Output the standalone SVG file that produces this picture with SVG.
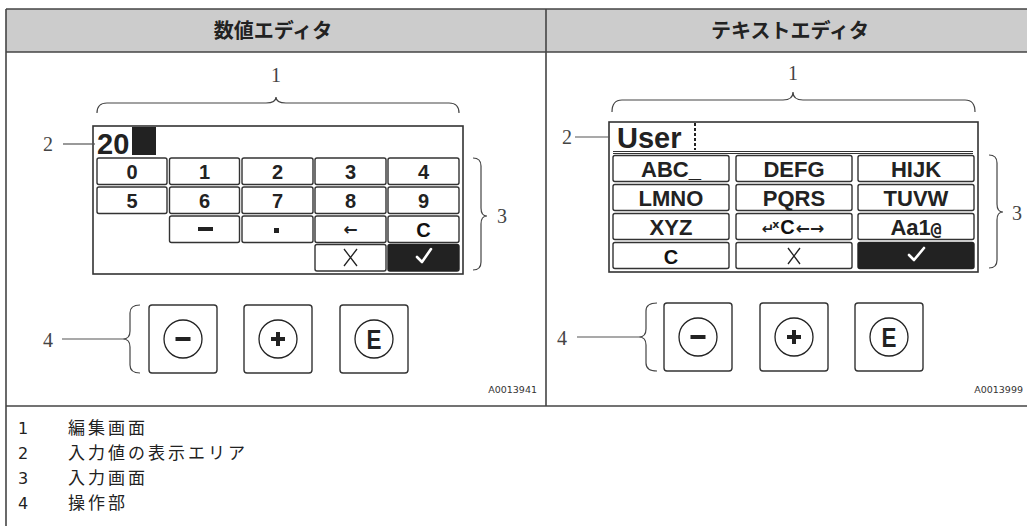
<svg xmlns="http://www.w3.org/2000/svg" width="1027" height="526" viewBox="0 0 1027 526">
<style>
.frame{fill:none;stroke:#444;stroke-width:1.6}
.hdr{font-family:"Noto Sans CJK JP","Noto Sans",sans-serif;font-weight:bold;font-size:20px;fill:#222;text-anchor:middle}
.lbl{font-family:"Liberation Serif","DejaVu Serif",serif;font-size:20px;fill:#444;text-anchor:middle}
.lead{fill:none;stroke:#555;stroke-width:1.2}
.brace{fill:none;stroke:#444;stroke-width:1.2}
.box{fill:#fff;stroke:#333;stroke-width:1.6}
.key{fill:#fff;stroke:#333;stroke-width:1.4}
.keyb{fill:#222;stroke:#222;stroke-width:1.4}
.kt{font-family:"Liberation Sans",Arial,sans-serif;font-weight:bold;font-size:20px;fill:#222;text-anchor:middle}
.tt{font-family:"Liberation Sans",Arial,sans-serif;font-weight:bold;font-size:22px;fill:#222;text-anchor:middle}
.cc{font-family:"Liberation Sans",Arial,sans-serif;font-weight:bold;font-size:20px;fill:#111;text-anchor:middle}
.mono{font-family:"DejaVu Sans Mono","Liberation Mono",monospace;font-weight:bold}
.sym{font-family:"DejaVu Sans",sans-serif;font-weight:bold}
.ic{fill:none;stroke:#222;stroke-width:1.3}
.chk{fill:none;stroke:#fff;stroke-width:2.6;stroke-linecap:round;stroke-linejoin:round}
.btn{fill:#fff;stroke:#333;stroke-width:1.4}
.circ{fill:none;stroke:#222;stroke-width:1.3}
.bar{fill:#222}
.E{font-family:"Liberation Sans",Arial,sans-serif;font-weight:bold;font-size:28px;fill:#222;text-anchor:middle}
.code{font-family:"DejaVu Sans",sans-serif;font-size:9.5px;fill:#333;text-anchor:end}
.legn{font-family:"DejaVu Sans",sans-serif;font-size:16px;fill:#222}
.legt{font-family:"Noto Sans CJK JP",sans-serif;font-size:17px;letter-spacing:3px;fill:#222}
</style>

<g id="frame">
  <rect x="6" y="9" width="1030" height="43" fill="#cccccc"/>
  <line class="frame" x1="6" y1="9" x2="1027" y2="9"/>
  <line class="frame" x1="6" y1="52" x2="1027" y2="52"/>
  <line class="frame" x1="6" y1="9" x2="6" y2="526"/>
  <line class="frame" x1="546" y1="9" x2="546" y2="406"/>
  <line class="frame" x1="6" y1="406" x2="1027" y2="406"/>
  <text class="hdr" x="273" y="38">数値エディタ</text>
  <text class="hdr" x="790" y="38">テキストエディタ</text>
</g>

<!-- Numeric editor -->
<g id="num-editor">
  <rect class="box" x="93" y="126" width="370" height="148"/>
  <text x="97" y="154" font-family="Liberation Sans,Arial,sans-serif" font-weight="bold" font-size="29" fill="#222">20</text>
  <rect x="132" y="127" width="24" height="28" fill="#222"/>
  <g id="num-keys">
    <rect class="key" x="97" y="158" width="70" height="26.5" rx="2"/>
    <rect class="key" x="169.5" y="158" width="70" height="26.5" rx="2"/>
    <rect class="key" x="242" y="158" width="71" height="26.5" rx="2"/>
    <rect class="key" x="315" y="158" width="71" height="26.5" rx="2"/>
    <rect class="key" x="388" y="158" width="71" height="26.5" rx="2"/>
    <rect class="key" x="97" y="187" width="70" height="26.5" rx="2"/>
    <rect class="key" x="169.5" y="187" width="70" height="26.5" rx="2"/>
    <rect class="key" x="242" y="187" width="71" height="26.5" rx="2"/>
    <rect class="key" x="315" y="187" width="71" height="26.5" rx="2"/>
    <rect class="key" x="388" y="187" width="71" height="26.5" rx="2"/>
    <rect class="key" x="169.5" y="216" width="70" height="26.5" rx="2"/>
    <rect class="key" x="242" y="216" width="71" height="26.5" rx="2"/>
    <rect class="key" x="315" y="216" width="71" height="26.5" rx="2"/>
    <rect class="key" x="388" y="216" width="71" height="26.5" rx="2"/>
    <rect class="key" x="315" y="244.5" width="71" height="26.5" rx="2"/>
    <rect class="keyb" x="388" y="244.5" width="71" height="26.5" rx="2"/>
    <text class="kt" x="132" y="178.5">0</text>
    <text class="kt" x="204.5" y="178.5">1</text>
    <text class="kt" x="277.5" y="178.5">2</text>
    <text class="kt" x="350.5" y="178.5">3</text>
    <text class="kt" x="423.5" y="178.5">4</text>
    <text class="kt" x="132" y="207.5">5</text>
    <text class="kt" x="204.5" y="207.5">6</text>
    <text class="kt" x="277.5" y="207.5">7</text>
    <text class="kt" x="350.5" y="207.5">8</text>
    <text class="kt" x="423.5" y="207.5">9</text>
    <rect class="bar" x="198" y="227" width="15" height="4"/>
    <rect class="bar" x="274" y="228" width="5" height="5"/>
    <text class="sym" x="350.5" y="235" font-size="17" fill="#222" text-anchor="middle">←</text>
    <text class="cc" x="423.5" y="236.5">C</text>
    <path class="ic" d="M344,249 L357,266 M357,249 L344,266"/>
    <path class="chk" d="M417,257 L422,262 L431,249"/>
  </g>
</g>

<!-- Text editor -->
<g id="text-editor">
  <rect class="box" x="609" y="122" width="369" height="150"/>
  <text x="617" y="148" font-family="Liberation Sans,Arial,sans-serif" font-weight="bold" font-size="29" fill="#222">User</text>
  <line x1="695" y1="123" x2="695" y2="150" stroke="#222" stroke-width="2" stroke-dasharray="3,2"/>
  <line x1="613" y1="151.5" x2="973" y2="151.5" stroke="#333" stroke-width="1"/>
  <line x1="613" y1="153.5" x2="973" y2="153.5" stroke="#333" stroke-width="1"/>
  <g id="text-keys">
    <rect class="key" x="613" y="155.5" width="116" height="26" rx="2"/>
    <rect class="key" x="736" y="155.5" width="116" height="26" rx="2"/>
    <rect class="key" x="858" y="155.5" width="116" height="26" rx="2"/>
    <rect class="key" x="613" y="184.5" width="116" height="26" rx="2"/>
    <rect class="key" x="736" y="184.5" width="116" height="26" rx="2"/>
    <rect class="key" x="858" y="184.5" width="116" height="26" rx="2"/>
    <rect class="key" x="613" y="213.5" width="116" height="26" rx="2"/>
    <rect class="key" x="736" y="213.5" width="116" height="26" rx="2"/>
    <rect class="key" x="858" y="213.5" width="116" height="26" rx="2"/>
    <rect class="key" x="613" y="242.5" width="116" height="26" rx="2"/>
    <rect class="key" x="736" y="242.5" width="116" height="26" rx="2"/>
    <rect class="keyb" x="858" y="242.5" width="116" height="26" rx="2"/>
    <text class="tt" x="671" y="176.5">ABC_</text>
    <text class="tt" x="794" y="176.5">DEFG</text>
    <text class="tt" x="916" y="176.5">HIJK</text>
    <text class="tt" x="671" y="205.5">LMNO</text>
    <text class="tt" x="794" y="205.5">PQRS</text>
    <text class="tt" x="916" y="205.5">TUVW</text>
    <text class="tt" x="671" y="234.5">XYZ</text>
    <text x="793" y="234" text-anchor="middle" fill="#222"><tspan class="sym" font-size="15">↵</tspan><tspan class="sym" font-size="11" dy="-6" dx="-2">x</tspan><tspan class="cc" font-size="20" dy="6" dx="1">C</tspan><tspan class="sym" font-size="17" dx="1">←→</tspan></text>
    <text class="tt" x="916" y="234.5">Aa1<tspan class="mono" font-size="18">@</tspan></text>
    <text class="cc" x="671" y="263.5">C</text>
    <path class="ic" d="M788,248 L800,264 M800,248 L788,264"/>
    <path class="chk" d="M909,255 L914,260 L924,248"/>
  </g>
</g>

<!-- Operating buttons -->
<g id="num-buttons">
  <rect class="btn" x="149" y="305" width="68" height="68" rx="3"/>
  <circle class="circ" cx="183" cy="339" r="19"/>
  <rect class="bar" x="175.5" y="337" width="15" height="4"/>
  <rect class="btn" x="244" y="305" width="68" height="68" rx="3"/>
  <circle class="circ" cx="278" cy="339" r="19"/>
  <rect class="bar" x="271" y="337" width="14" height="4"/>
  <rect class="bar" x="276" y="332" width="4" height="14"/>
  <rect class="btn" x="340" y="305" width="68" height="68" rx="3"/>
  <circle class="circ" cx="374" cy="339" r="19"/>
  <text class="E" transform="translate(374,349) scale(0.8,1)">E</text>
  <text class="code" x="537" y="393">A0013941</text>
</g>
<g id="text-buttons">
  <rect class="btn" x="664" y="303" width="68" height="68" rx="3"/>
  <circle class="circ" cx="698" cy="337" r="19"/>
  <rect class="bar" x="690.5" y="335" width="15" height="4"/>
  <rect class="btn" x="760" y="303" width="68" height="68" rx="3"/>
  <circle class="circ" cx="794" cy="337" r="19"/>
  <rect class="bar" x="787" y="335" width="14" height="4"/>
  <rect class="bar" x="792" y="330" width="4" height="14"/>
  <rect class="btn" x="855" y="303" width="68" height="68" rx="3"/>
  <circle class="circ" cx="889" cy="337" r="19"/>
  <text class="E" transform="translate(889,347) scale(0.8,1)">E</text>
  <text class="code" x="1023" y="393">A0013999</text>
</g>

<!-- Callout labels -->
<g id="label-1-num"><text class="lbl" x="276" y="82">1</text></g>
<g id="label-2-num"><text class="lbl" x="48" y="151">2</text></g>
<g id="label-3-num"><text class="lbl" x="502" y="223">3</text></g>
<g id="label-4-num"><text class="lbl" x="48" y="347">4</text></g>
<g id="label-1-txt"><text class="lbl" x="793" y="80">1</text></g>
<g id="label-2-txt"><text class="lbl" x="567" y="144">2</text></g>
<g id="label-3-txt"><text class="lbl" x="1017" y="220">3</text></g>
<g id="label-4-txt"><text class="lbl" x="562" y="345">4</text></g>

<g id="connectors">
  <path class="brace" d="M97,113 Q97,103 107,103 L266,103 Q276,103 276,97 Q276,103 286,103 L449,103 Q459,103 459,113"/>
  <path class="brace" d="M473,158 Q481,158 481,166 L481,208 Q481,216 487,216 Q481,216 481,224 L481,262 Q481,270 473,270"/>
  <path class="brace" d="M140,305 Q130,305 130,313 L130,331 Q130,339 123,339 Q130,339 130,347 L130,365 Q130,373 140,373"/>
  <line class="lead" x1="63" y1="144" x2="95" y2="144"/>
  <line class="lead" x1="62" y1="339" x2="123" y2="339"/>
  <path class="brace" d="M612,112 Q612,100 622,100 L783,100 Q793,100 793,92 Q793,100 803,100 L965,100 Q975,100 975,112"/>
  <path class="brace" d="M989,155 Q997,155 997,163 L997,204 Q997,212 1003,212 Q997,212 997,220 L997,260 Q997,268 989,268"/>
  <path class="brace" d="M657,303 Q646,303 646,311 L646,329 Q646,337 639,337 Q646,337 646,345 L646,363 Q646,371 657,371"/>
  <line class="lead" x1="575" y1="137" x2="610" y2="137"/>
  <line class="lead" x1="577" y1="337" x2="639" y2="337"/>
</g>

<g id="legend">
  <text class="legn" x="18" y="434">1</text><text class="legt" x="68" y="434">編集画面</text>
  <text class="legn" x="18" y="459">2</text><text class="legt" x="68" y="459">入力値の表示エリア</text>
  <text class="legn" x="18" y="484">3</text><text class="legt" x="68" y="484">入力画面</text>
  <text class="legn" x="18" y="509">4</text><text class="legt" x="68" y="509">操作部</text>
</g>
</svg>
